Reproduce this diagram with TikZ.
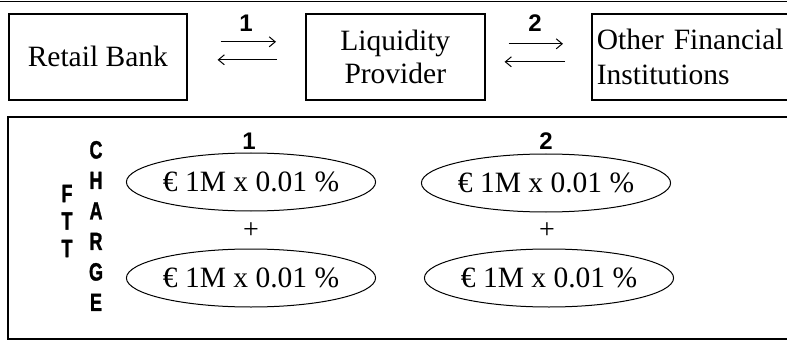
\documentclass[tikz,border=0pt]{standalone}
\usepackage{fontspec}
\usepackage{graphicx}
\setmainfont{Liberation Serif}
\newfontfamily\lsans{Liberation Sans}
\newfontfamily\lheavy[FakeBold=1.5]{Liberation Sans Bold}
\usetikzlibrary{shapes.geometric,arrows.meta}
\begin{document}
\begin{tikzpicture}[x=1pt,y=-1pt,
  box/.style={draw, line width=1.6pt, inner sep=0pt, align=center,
    font=\fontsize{29.5}{35}\selectfont},
  oval/.style={draw, ellipse, line width=1pt, inner sep=0pt,
    minimum width=211pt, minimum height=58pt, font=\fontsize{29.5}{35}\selectfont},
  num/.style={font=\lsans\bfseries\fontsize{24}{26}\selectfont, inner sep=0pt},
  plus/.style={font=\fontsize{28}{30}\selectfont, inner sep=0pt},
  flow/.style={line width=1pt, -{Straight Barb[length=6pt,width=10pt]}},
  vert/.style={font=\lheavy\fontsize{25}{25}\selectfont, inner sep=0pt, align=center}
]
\path[use as bounding box] (0,0) rectangle (787,342);
\clip (0,0) rectangle (787,342);
\fill[white] (0,0) rectangle (787,342);

\coordinate (tl) at (0,1.5);
\coordinate (tr) at (787,1.5);
\draw[line width=1.6pt] (tl) -- (tr);

% top row boxes
\node[box, anchor=north west, minimum width=178pt, minimum height=86pt] (rb) at (8,13) {Retail Bank};
\node[box, anchor=north west, minimum width=179pt, minimum height=86pt] (lp) at (305,13)
  {Liquidity\\[-2pt]Provider};
\node[box, anchor=north west, minimum width=209pt, minimum height=86pt,
  text width=199pt, align=left] (ofi) at (591,13) {Other Financial\\[0pt]Institutions};

% arrows 1
\draw[flow, shorten <=33pt, shorten >=29pt] ([yshift=15pt]rb.east) -- ([yshift=15pt]lp.west);
\draw[flow, shorten <=28pt, shorten >=30pt] ([yshift=-3pt]lp.west) -- ([yshift=-3pt]rb.east);
\node[num] (l1) at (246,23) {1};

% arrows 2
\draw[flow, shorten <=23pt, shorten >=28pt] ([yshift=13pt]lp.east) -- ([yshift=13pt]ofi.west);
\draw[flow, shorten <=26pt, shorten >=19pt] ([yshift=-5pt]ofi.west) -- ([yshift=-5pt]lp.east);
\node[num] (l2) at (535,23) {2};

% lower box
\node[draw, line width=1.8pt, anchor=north west, minimum width=793pt, minimum height=222pt,
  inner sep=0pt] (charge) at (7,116) {};

% vertical words
\node[vert] (ftt) at (67,221) {\scalebox{0.72}[1]{F}\\[2.5pt]\scalebox{0.72}[1]{T}\\[2.5pt]\scalebox{0.72}[1]{T}};
\node[vert] (chg) at (96,226) {\scalebox{0.72}[1]{C}\\[5.5pt]\scalebox{0.72}[1]{H}\\[5.5pt]\scalebox{0.72}[1]{A}\\[5.5pt]\scalebox{0.72}[1]{R}\\[5.5pt]\scalebox{0.72}[1]{G}\\[5.5pt]\scalebox{0.72}[1]{E}};

% column 1
\node[num] (c1) at (249,141) {1};
\node[oval] (e11) at (251,182) {\texteuro\ 1M x 0.01 \%};
\node[plus] (p1) at (251,231) {+};
\node[oval] (e12) at (251,278) {\texteuro\ 1M x 0.01 \%};

% column 2
\node[num] (c2) at (546,141) {2};
\node[oval, minimum width=213pt] (e21) at (546,183) {\texteuro\ 1M x 0.01 \%};
\node[plus] (p2) at (547,231) {+};
\node[oval, minimum width=215pt] (e22) at (549,278) {\texteuro\ 1M x 0.01 \%};
\end{tikzpicture}
\end{document}
